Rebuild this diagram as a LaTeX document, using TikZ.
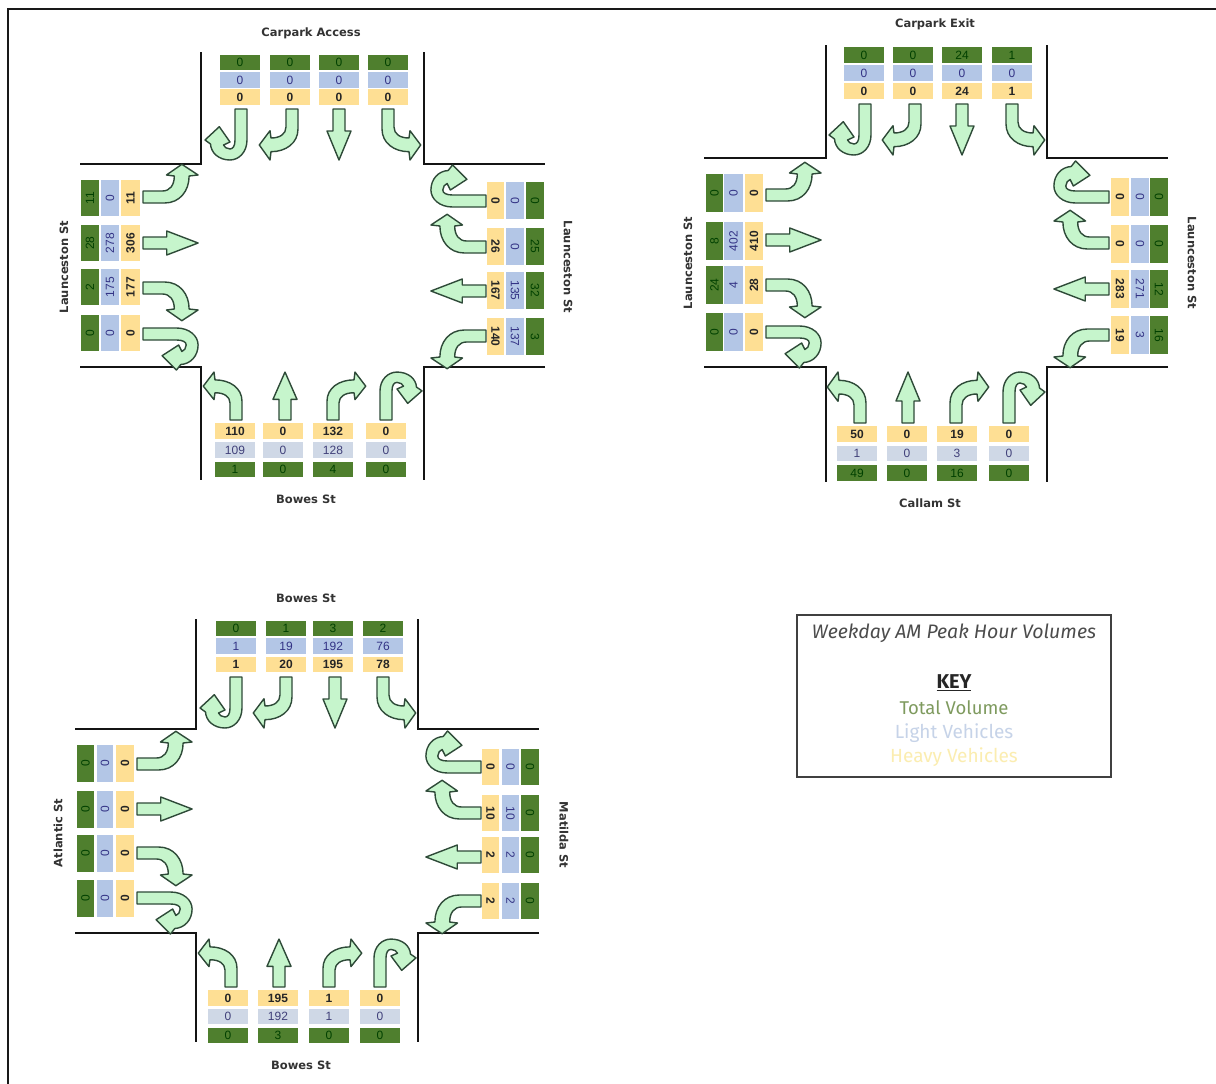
\documentclass[tikz,border=0pt]{standalone}
\usepackage{fontspec}
\setmainfont{Liberation Sans}
\newfontfamily\labfont{DejaVu Sans}
\newfontfamily\keyfont{Fira Sans}
\definecolor{cgreen}{HTML}{4F7F2E}
\definecolor{cblue}{HTML}{B3C6E6}
\definecolor{cyellow}{HTML}{FEDF94}
\definecolor{cgray}{HTML}{CFD8E6}
\definecolor{cmint}{HTML}{C6F5CC}
\definecolor{carrowline}{HTML}{2E4A38}
\definecolor{clabel}{HTML}{333333}
\definecolor{kolive}{HTML}{7E9A5E}
\definecolor{klight}{HTML}{C6D3E8}
\definecolor{kheavy}{HTML}{FBEDB0}
\tikzset{
  kerb/.style={line width=2.8pt,color=black!92},
  flow/.style={fill=cmint,draw=carrowline,line width=1.4pt,line join=round},
  streetlab/.style={font=\labfont\bfseries\fontsize{11.5}{12}\selectfont,text=clabel,inner sep=0pt},
}
\newcommand{\cellnum}[8]{%
  \fill[#5] (#1,#2) rectangle (#3,#4);
  \node[inner sep=0pt,text=#6,rotate=#7,font=\fontsize{12}{12}\selectfont] at ({(#1+#3)/2},{(#2+#4)/2}) {#8};}
\newcommand{\cellnumb}[8]{%
  \fill[#5] (#1,#2) rectangle (#3,#4);
  \node[inner sep=0pt,text=#6,rotate=#7,font=\bfseries\fontsize{12}{12}\selectfont] at ({(#1+#3)/2},{(#2+#4)/2}) {#8};}
% arrows: top frame, y up, forward is -y
\newcommand{\flowU}{\path[flow] (6,0) -- (6,-31) .. controls (6,-43) and (-2,-51) .. (-11,-51) .. controls (-22,-51) and (-30,-44) .. (-30.5,-35) -- (-36,-31) -- (-21.7,-17.7) -- (-11,-33) -- (-17.5,-36) .. controls (-17,-38) and (-14,-40) .. (-11,-40) .. controls (-8,-40) and (-6,-37) .. (-6,-31) -- (-6,0) -- cycle;}
\newcommand{\flowL}{\path[flow] (6,0) -- (6,-20) .. controls (6,-34) and (-6,-42.7) .. (-21,-42.7) -- (-22,-51) -- (-32.7,-36) -- (-22,-21.7) -- (-21,-29) .. controls (-12,-29) and (-6,-25) .. (-6,-18) -- (-6,0) -- cycle;}
\newcommand{\flowS}{\path[flow] (6,0) -- (6,-22) -- (12,-22) -- (0,-51) -- (-12,-22) -- (-6,-22) -- (-6,0) -- cycle;}
\newcommand{\flowR}{\path[flow] (-6,0) -- (-6,-20) .. controls (-6,-34) and (6,-42.7) .. (21,-42.7) -- (22,-51) -- (32.7,-36) -- (22,-21.7) -- (21,-29) .. controls (12,-29) and (6,-25) .. (6,-18) -- (6,0) -- cycle;}
\newcommand{\flowat}[5]{\begin{scope}[shift={(#1,#2)},x=1pt,y=1pt,rotate=#3,yscale=#4]#5\end{scope}}
\newcommand{\kerbs}[8]{%
  \draw[kerb] (#1,#7) -- (#1,#3) -- (#5,#3);
  \draw[kerb] (#2,#7) -- (#2,#3) -- (#6,#3);
  \draw[kerb] (#5,#4) -- (#1,#4) -- (#1,#8);
  \draw[kerb] (#6,#4) -- (#2,#4) -- (#2,#8);}
\newcommand{\topstack}[8]{%
  \cellnum{#1}{#3}{#2}{#4}{cgreen}{green!25!black}{0}{\tg}
  \cellnum{#1}{#5}{#2}{#6}{cblue}{blue!40!black!80}{0}{\tb}
  \cellnumb{#1}{#7}{#2}{#8}{cyellow}{black!85}{0}{\ty}}
\newcommand{\botstack}[8]{%
  \cellnumb{#1}{#3}{#2}{#4}{cyellow}{black!85}{0}{\ty}
  \cellnum{#1}{#5}{#2}{#6}{cgray}{blue!30!black!75}{0}{\tb}
  \cellnum{#1}{#7}{#2}{#8}{cgreen}{green!25!black}{0}{\tg}}
\newcommand{\leftstack}[8]{%
  \cellnum{#1}{#7}{#2}{#8}{cgreen}{green!25!black}{90}{\tg}
  \cellnum{#3}{#7}{#4}{#8}{cblue}{blue!40!black!80}{90}{\tb}
  \cellnumb{#5}{#7}{#6}{#8}{cyellow}{black!85}{90}{\ty}}
\newcommand{\rightstack}[8]{%
  \cellnumb{#1}{#7}{#2}{#8}{cyellow}{black!85}{-90}{\ty}
  \cellnum{#3}{#7}{#4}{#8}{cblue}{blue!40!black!80}{-90}{\tb}
  \cellnum{#5}{#7}{#6}{#8}{cgreen}{green!25!black}{-90}{\tg}}
\newcommand{\tv}[3]{\def\tg{#1}\def\tb{#2}\def\ty{#3}}
\begin{document}
\begin{tikzpicture}[x=1pt,y=-1pt]
\useasboundingbox (0,0) rectangle (1216,1084);
\fill[white] (0,0) rectangle (1216,1084);
\draw[black!90,line width=2pt] (8,1084) -- (8,9) -- (1216,9);

% ---------- Intersection 1
\kerbs{201}{424}{164}{367}{80}{545}{52}{480}
\foreach \xa/\g/\b/\y in {220/0/0/0,270/0/0/0,319/0/0/0,368/0/0/0}{\tv{\g}{\b}{\y}\topstack{\xa}{\xa+40}{55}{70}{72}{88}{89}{105}}
\foreach \ya/\g/\b/\y in {180/11/0/11,225/28/278/306,269/2/175/177,315/0/0/0}{\tv{\g}{\b}{\y}\leftstack{81}{99}{101}{119}{121}{140}{\ya}{\ya+36}}
\foreach \ya/\g/\b/\y in {182/0/0/0,228/25/0/26,272/32/135/167,318/3/137/140}{\tv{\g}{\b}{\y}\rightstack{487}{504}{506}{524}{526}{544}{\ya}{\ya+37}}
\foreach \xa/\g/\b/\y in {215/1/109/110,263/0/0/0,313/4/128/132,366/0/0/0}{\tv{\g}{\b}{\y}\botstack{\xa}{\xa+40}{423}{439}{442}{458}{462}{477}}
\flowat{241}{109}{0}{1}{\flowU}\flowat{292}{109}{0}{1}{\flowL}\flowat{339}{109}{0}{1}{\flowS}\flowat{388}{109}{0}{1}{\flowR}
\flowat{143}{197}{90}{1.08}{\flowR}\flowat{143}{243}{90}{1.08}{\flowS}\flowat{143}{288}{90}{1.08}{\flowL}\flowat{143}{334}{90}{1.08}{\flowU}
\flowat{486}{201}{-90}{1.08}{\flowU}\flowat{486}{247}{-90}{1.08}{\flowL}\flowat{486}{291}{-90}{1.08}{\flowS}\flowat{486}{336}{-90}{1.08}{\flowR}
\flowat{236}{420}{180}{.94}{\flowR}\flowat{285}{420}{180}{.94}{\flowS}\flowat{333}{420}{180}{.94}{\flowL}\flowat{386}{420}{180}{.94}{\flowU}
\node[streetlab] (l1t) at (311,33) {Carpark Access};
\node[streetlab] (l1b) at (306,499) {Bowes St};
\node[streetlab,rotate=90] (l1l) at (64,267) {Launceston St};
\node[streetlab,rotate=-90] (l1r) at (568,267) {Launceston St};

% ---------- Intersection 2
\kerbs{826}{1047}{158}{367}{704}{1168}{45}{482}
\foreach \xa/\g/\b/\y in {844/0/0/0,893/0/0/0,942/24/0/24,992/1/0/1}{\tv{\g}{\b}{\y}\topstack{\xa}{\xa+40}{47}{63}{65}{81}{83}{99}}
\foreach \ya/\g/\b/\y in {174/0/0/0,222/8/402/410,266/24/4/28,313/0/0/0}{\tv{\g}{\b}{\y}\leftstack{706}{723}{724}{743}{745}{763}{\ya}{\ya+38}}
\foreach \ya/\g/\b/\y in {178/0/0/0,225/0/0/0,270/12/271/283,316/16/3/19}{\tv{\g}{\b}{\y}\rightstack{1111}{1129}{1131}{1149}{1150}{1168}{\ya}{\ya+38}}
\foreach \xa/\g/\b/\y in {837/49/1/50,887/0/0/0,937/16/3/19,989/0/0/0}{\tv{\g}{\b}{\y}\botstack{\xa}{\xa+40}{426}{442}{446}{461}{465}{481}}
\flowat{865}{104}{0}{1}{\flowU}\flowat{915}{104}{0}{1}{\flowL}\flowat{962}{104}{0}{1}{\flowS}\flowat{1012}{104}{0}{1}{\flowR}
\flowat{766}{195}{90}{1.08}{\flowR}\flowat{766}{240}{90}{1.08}{\flowS}\flowat{766}{285}{90}{1.08}{\flowL}\flowat{766}{332}{90}{1.08}{\flowU}
\flowat{1109}{197}{-90}{1.08}{\flowU}\flowat{1109}{243}{-90}{1.08}{\flowL}\flowat{1109}{289}{-90}{1.08}{\flowS}\flowat{1109}{335}{-90}{1.08}{\flowR}
\flowat{860}{423}{180}{1}{\flowR}\flowat{908}{423}{180}{1}{\flowS}\flowat{956}{423}{180}{1}{\flowL}\flowat{1009}{423}{180}{1}{\flowU}
\node[streetlab] (l2t) at (935,24) {Carpark Exit};
\node[streetlab] (l2b) at (930,503) {Callam St};
\node[streetlab,rotate=90] (l2l) at (688,263) {Launceston St};
\node[streetlab,rotate=-90] (l2r) at (1192,263) {Launceston St};

% ---------- Intersection 3
\kerbs{196}{418}{729}{933}{75}{539}{619}{1042}
\foreach \xa/\g/\b/\y in {216/0/1/1,266/1/19/20,313/3/192/195,363/2/76/78}{\tv{\g}{\b}{\y}\topstack{\xa}{\xa+40}{621}{636}{638}{654}{657}{672}}
\foreach \ya/\g/\b/\y in {745/0/0/0,791/0/0/0,835/0/0/0,880/0/0/0}{\tv{\g}{\b}{\y}\leftstack{77}{94}{97}{113}{116}{134}{\ya}{\ya+37}}
\foreach \ya/\g/\b/\y in {749/0/0/0,795/0/10/10,837/0/2/2,883/0/2/2}{\tv{\g}{\b}{\y}\rightstack{482}{499}{502}{519}{521}{539}{\ya}{\ya+36}}
\foreach \xa/\g/\b/\y in {208/0/0/0,258/3/192/195,309/0/1/1,360/0/0/0}{\tv{\g}{\b}{\y}\botstack{\xa}{\xa+40}{990}{1006}{1009}{1024}{1028}{1043}}
\flowat{236}{677}{0}{1}{\flowU}\flowat{286}{677}{0}{1}{\flowL}\flowat{335}{677}{0}{1}{\flowS}\flowat{383}{677}{0}{1}{\flowR}
\flowat{137}{764}{90}{1.08}{\flowR}\flowat{137}{809}{90}{1.08}{\flowS}\flowat{137}{853}{90}{1.08}{\flowL}\flowat{137}{898}{90}{1.08}{\flowU}
\flowat{481}{767}{-90}{1.08}{\flowU}\flowat{481}{813}{-90}{1.08}{\flowL}\flowat{481}{857}{-90}{1.08}{\flowS}\flowat{481}{901}{-90}{1.08}{\flowR}
\flowat{231}{987}{180}{.94}{\flowR}\flowat{279}{987}{180}{.94}{\flowS}\flowat{329}{987}{180}{.94}{\flowL}\flowat{380}{987}{180}{.94}{\flowU}
\node[streetlab] (l3t) at (306,598) {Bowes St};
\node[streetlab] (l3b) at (301,1065) {Bowes St};
\node[streetlab,rotate=90] (l3l) at (58,833) {Atlantic St};
\node[streetlab,rotate=-90] (l3r) at (564,835) {Matilda St};

% ---------- Key
\draw[black!75,line width=1.5pt,fill=white] (797,615) rectangle (1111,777);
\node[inner sep=0pt,text=black!70,font=\keyfont\itshape\fontsize{19.5}{20}\selectfont] (ktitle) at (954,633) {Weekday AM Peak Hour Volumes};
\node[inner sep=0pt,text=black!85,font=\keyfont\bfseries\fontsize{20}{20}\selectfont] (kkey) at (954,683) {\underline{KEY}};
\node[inner sep=0pt,text=kolive,font=\keyfont\fontsize{18.5}{20}\selectfont] (ktot) at (954,708) {Total Volume};
\node[inner sep=0pt,text=klight,font=\keyfont\fontsize{19}{20}\selectfont] (klight) at (954,733) {Light Vehicles};
\node[inner sep=0pt,text=kheavy,font=\keyfont\fontsize{19}{20}\selectfont] (kheavy) at (954,757) {Heavy Vehicles};
\end{tikzpicture}
\end{document}
